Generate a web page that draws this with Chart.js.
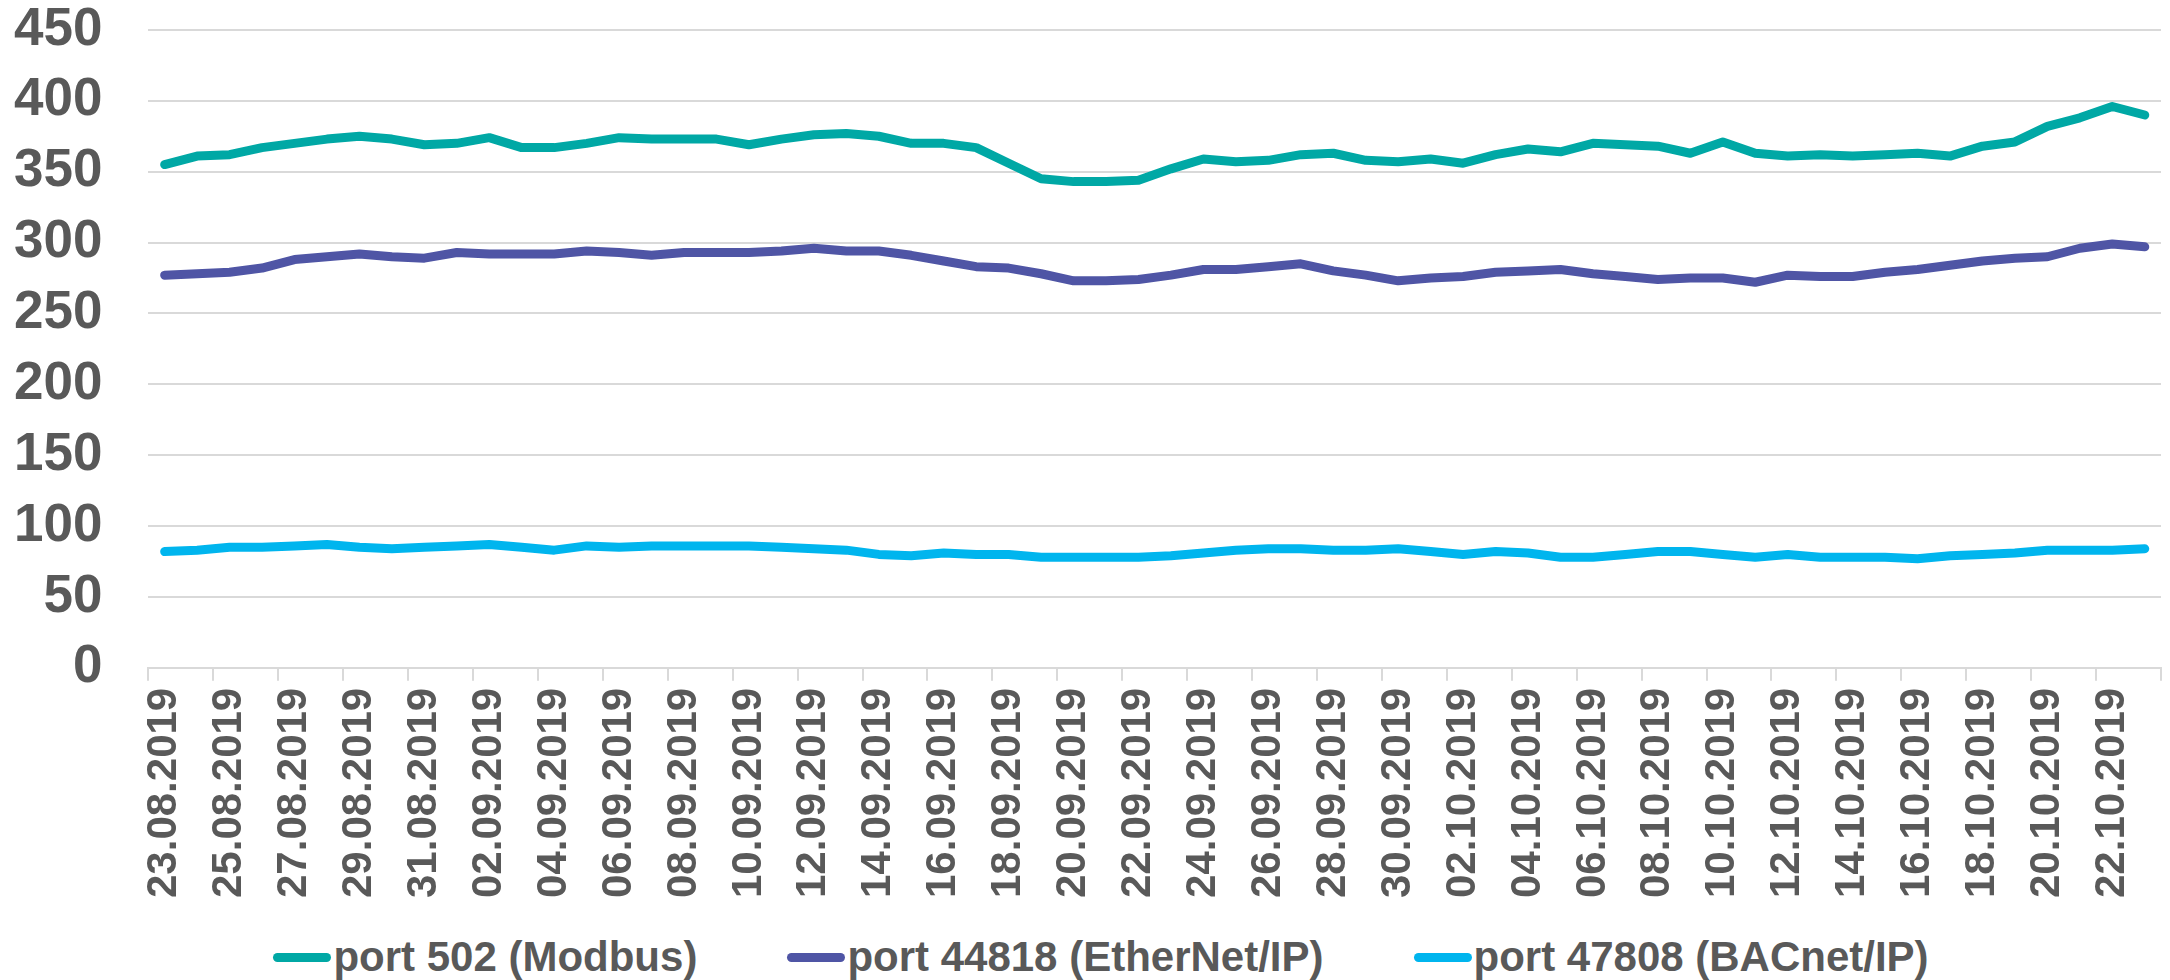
<!DOCTYPE html>
<html>
<head>
<meta charset="utf-8">
<script src="https://cdn.jsdelivr.net/npm/chart.js@4.4.1/dist/chart.umd.min.js"></script>
<style>
  html, body { margin: 0; padding: 0; background: #fff; }
  #wrap { position: relative; width: 2170px; height: 980px; }
  #chartBox { position: absolute; left: 0; top: 0; width: 2170px; height: 898px; }
  #legend {
    position: absolute; left: 16px; top: 930px; width: 2170px; height: 54px;
    display: flex; justify-content: center; align-items: center;
    font: bold 42px "Liberation Sans", Arial, sans-serif; color: #595959;
  }
  .item { display: flex; align-items: center; margin: 0 45px; white-space: nowrap; }
  .swatch { width: 58px; height: 9px; border-radius: 4.5px; margin-right: 2px; }
</style>
</head>
<body>
<div id="wrap">
  <div id="chartBox"><canvas id="chart"></canvas></div>
  <div id="legend"></div>
</div>
<script>
// categories (daily)
const dates = [
  "23.08.2019", "24.08.2019", "25.08.2019", "26.08.2019", "27.08.2019", "28.08.2019",
  "29.08.2019", "30.08.2019", "31.08.2019", "01.09.2019", "02.09.2019", "03.09.2019",
  "04.09.2019", "05.09.2019", "06.09.2019", "07.09.2019", "08.09.2019", "09.09.2019",
  "10.09.2019", "11.09.2019", "12.09.2019", "13.09.2019", "14.09.2019", "15.09.2019",
  "16.09.2019", "17.09.2019", "18.09.2019", "19.09.2019", "20.09.2019", "21.09.2019",
  "22.09.2019", "23.09.2019", "24.09.2019", "25.09.2019", "26.09.2019", "27.09.2019",
  "28.09.2019", "29.09.2019", "30.09.2019", "01.10.2019", "02.10.2019", "03.10.2019",
  "04.10.2019", "05.10.2019", "06.10.2019", "07.10.2019", "08.10.2019", "09.10.2019",
  "10.10.2019", "11.10.2019", "12.10.2019", "13.10.2019", "14.10.2019", "15.10.2019",
  "16.10.2019", "17.10.2019", "18.10.2019", "19.10.2019", "20.10.2019", "21.10.2019",
  "22.10.2019", "23.10.2019"
];

const modbus = [
  355, 361, 362, 367, 370, 373, 375, 373, 369, 370, 374, 367, 367, 370, 374, 373,
  373, 373, 369, 373, 376, 377, 375, 370, 370, 367, 356, 345, 343, 343, 344, 352,
  359, 357, 358, 362, 363, 358, 357, 359, 356, 362, 366, 364, 370, 369, 368, 363,
  371, 363, 361, 362, 361, 362, 363, 361, 368, 371, 382, 388, 396, 390
];

const ethernetIp = [
  277, 278, 279, 282, 288, 290, 292, 290, 289, 293, 292, 292, 292, 294, 293, 291,
  293, 293, 293, 294, 296, 294, 294, 291, 287, 283, 282, 278, 273, 273, 274, 277,
  281, 281, 283, 285, 280, 277, 273, 275, 276, 279, 280, 281, 278, 276, 274, 275,
  275, 272, 277, 276, 276, 279, 281, 284, 287, 289, 290, 296, 299, 297
];

const bacnetIp = [
  82, 83, 85, 85, 86, 87, 85, 84, 85, 86, 87, 85, 83, 86, 85, 86,
  86, 86, 86, 85, 84, 83, 80, 79, 81, 80, 80, 78, 78, 78, 78, 79,
  81, 83, 84, 84, 83, 83, 84, 82, 80, 82, 81, 78, 78, 80, 82, 82,
  80, 78, 80, 78, 78, 78, 77, 79, 80, 81, 83, 83, 83, 84
];

const seriesNames = ["port 502 (Modbus)", "port 44818 (EtherNet/IP)", "port 47808 (BACnet/IP)"];
const seriesColors = ["#00A8A5", "#4F55A5", "#00B5EE"];

const yTicks = [0, 50, 100, 150, 200, 250, 300, 350, 400, 450];

const FONT = '"Liberation Sans", Arial, sans-serif';
const TEXT = "#595959";
const GRID = "#d9d9d9";
const Y_PAD = 46;
const X_PAD = 7;

function lineSet(label, data, color) {
  return {
    label, data,
    borderColor: color,
    backgroundColor: color,
    borderWidth: 9,
    borderCapStyle: "round",
    borderJoinStyle: "round",
    pointRadius: 0,
    pointHoverRadius: 0,
    tension: 0,
    fill: false,
  };
}

const chart = new Chart(document.getElementById("chart"), {
  type: "line",
  data: {
    labels: dates,
    datasets: [
      lineSet(seriesNames[0], modbus, seriesColors[0]),
      lineSet(seriesNames[1], ethernetIp, seriesColors[1]),
      lineSet(seriesNames[2], bacnetIp, seriesColors[2]),
    ],
  },
  options: {
    responsive: true,
    maintainAspectRatio: false,
    animation: false,
    layout: { padding: { left: 14, right: 9, top: 0, bottom: 0 } },
    plugins: {
      legend: { display: false },
      tooltip: { enabled: false },
    },
    scales: {
      x: {
        offset: true,
        border: { display: true, color: GRID, width: 2 },
        grid: {
          offset: true,
          drawOnChartArea: false,
          drawTicks: true,
          tickLength: 13,
          lineWidth: 2,
          color: (ctx) => (ctx.index === undefined || ctx.index % 2 === 0) ? GRID : "rgba(0,0,0,0)",
        },
        ticks: {
          autoSkip: false,
          minRotation: 90,
          maxRotation: 90,
          padding: X_PAD,
          color: TEXT,
          font: { family: FONT, size: 42, weight: "bold" },
          callback: (val, i) => (i % 2 === 0 ? dates[i] : ""),
        },
        // chart.js counts tick padding twice; keep only one
        afterFit: (axis) => {
          axis.height -= X_PAD;
          axis.paddingRight = 0;
          axis.paddingLeft = 0;
        },
      },
      y: {
        min: 0,
        max: 450,
        border: { display: false },
        grid: { color: GRID, lineWidth: 2, drawTicks: false },
        afterBuildTicks: (axis) => { axis.ticks = yTicks.map((v) => ({ value: v })); },
        ticks: {
          padding: Y_PAD,
          color: TEXT,
          font: { family: FONT, size: 53, weight: "bold", lineHeight: 1.13 },
        },
        afterFit: (axis) => {
          axis.width -= Y_PAD;
          axis.paddingTop -= Y_PAD;
          axis.paddingBottom -= Y_PAD;
        },
      },
    },
  },
});

// html legend built from the chart's datasets
const legendEl = document.getElementById("legend");
chart.data.datasets.forEach((ds) => {
  const item = document.createElement("div");
  item.className = "item";
  const sw = document.createElement("span");
  sw.className = "swatch";
  sw.style.background = ds.borderColor;
  const txt = document.createElement("span");
  txt.textContent = ds.label;
  item.appendChild(sw);
  item.appendChild(txt);
  legendEl.appendChild(item);
});
</script>
</body>
</html>
